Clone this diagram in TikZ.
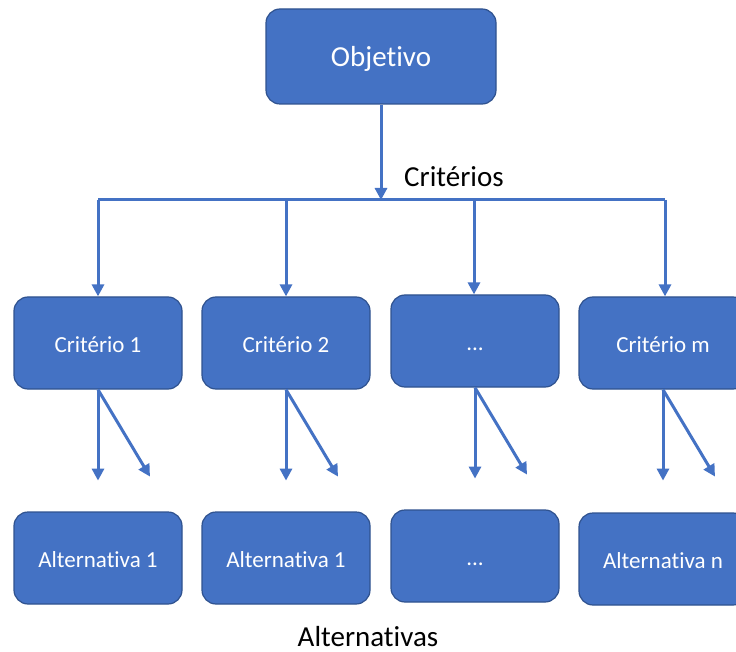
\documentclass[tikz,border=0pt]{standalone}
\usepackage{fontspec}
\setmainfont{Carlito}[Ligatures=NoCommon]
\usetikzlibrary{arrows.meta}
\definecolor{boxfill}{HTML}{4472C4}
\definecolor{boxline}{HTML}{2F528F}
\tikzset{
  box/.style={draw=boxline, line width=1.2pt, fill=boxfill, rounded corners=14pt,
    minimum width=168pt, minimum height=92pt, inner sep=0pt,
    text height=18pt, text depth=0pt,
    text=white, font=\fontsize{23}{27}\selectfont},
  topbox/.style={box, minimum width=230pt, minimum height=95pt,
    text height=21pt, font=\fontsize{29}{34}\selectfont},
  link/.style={draw=boxfill, line width=3pt},
  arr/.style={link, -{Triangle[length=12pt,width=12pt]}},
  caption/.style={text=black, font=\fontsize{29}{34}\selectfont, inner sep=0pt}
}
\begin{document}
\begin{tikzpicture}[x=1pt,y=-1pt]
  \useasboundingbox (0,0) rectangle (736,652);
  \clip (0,0) rectangle (736,652);

  % goal
  \node[topbox] (o) at (381,56.5) {Objetivo};

  % criteria
  \node[box] (c1) at (98,343) {Critério 1};
  \node[box] (c2) at (286,343) {Critério 2};
  \node[box] (c3) at (475,341) {...};
  \node[box] (c4) at (663,343) {Critério m};

  % alternatives
  \node[box] (a1) at (98,558) {Alternativa 1};
  \node[box] (a2) at (286,558) {Alternativa 1};
  \node[box] (a3) at (475,556) {...};
  \node[box] (a4) at (663,559) {Alternativa n};

  % level captions
  \node[caption, anchor=base west] (lc) at (404,187) {Critérios};
  \node[caption, anchor=base] (la) at (368,646) {Alternativas};

  % distribution bar
  \coordinate (bm) at (381,200);
  \coordinate (b1) at (98,200);
  \coordinate (b2) at (286,200);
  \coordinate (b3) at (474,200);
  \coordinate (b4) at (665,200);
  \draw[link] (b1) -- (b4);
  \draw[arr] (o.south) -- (bm);
  \foreach \i in {1,2,3,4}{
    \draw[arr] (b\i) -- (b\i |- c\i.north);
  }

  % criterion to alternatives
  \foreach \i in {1,2,3,4}{
    \draw[arr] (c\i.south) -- ++(0,91);
    \draw[arr] (c\i.south) -- ++(52,87);
  }
\end{tikzpicture}
\end{document}
